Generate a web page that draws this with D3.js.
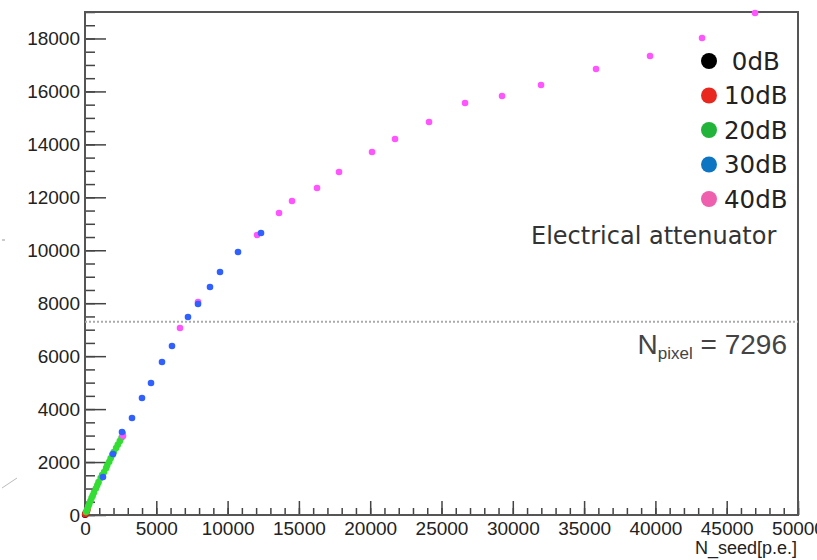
<!DOCTYPE html>
<html>
  <head>
    <meta charset="utf-8">
    <style>
      body { margin: 0; background: #fff; }
      .axis text { font: 19px "Liberation Sans", Arial, sans-serif; fill: #222; }
      .axis line { stroke: #444; stroke-width: 1.5; }
      .axis path { display: none; }
    </style>
    <script src="https://d3js.org/d3.v7.min.js"></script>
  </head>
  <body>
    <svg class="chart"></svg>
    <script>
      // series: [N_seed, N_fired]
      const series0dB = [[10, 10], [30, 35]];
      const series10dB = [[20, 30], [60, 70], [110, 120], [170, 200]];
      const series20dB = [[70, 110], [150, 210], [230, 330], [300, 420], [380, 530], [460, 640],
        [540, 730], [630, 850], [760, 1000], [860, 1120], [950, 1240], [1100, 1400], [1200, 1510],
        [1340, 1620], [1480, 1770], [1560, 1880], [1700, 2010], [1800, 2140], [1910, 2270],
        [2020, 2380], [2180, 2530], [2300, 2650], [2440, 2790], [2560, 2920], [2650, 3080]];
      const series30dB = [[1262, 1435], [1964, 2304], [2595, 3135], [3296, 3664], [3997, 4419],
        [4629, 4986], [5400, 5779], [6101, 6383], [7223, 7478], [7925, 7969], [8766, 8612],
        [9468, 9178], [10730, 9934], [12343, 10651]];
      const series40dB = [[2665, 2984], [6662, 7063], [7925, 8045], [12062, 10575], [13605, 11407],
        [14517, 11860], [16270, 12351], [17813, 12955], [20127, 13711], [21740, 14202],
        [24125, 14844], [26650, 15561], [29244, 15826], [31979, 16241], [35836, 16845],
        [39623, 17336], [43270, 18016], [46987, 18960]];

      const legendLabels = [" 0dB", "10dB", "20dB", "30dB", "40dB"];
      const legendColors = ["#000000", "#e8281e", "#22b33a", "#0d75c2", "#ee5fae"];
      const markerColors = ["#000000", "#ff1a1a", "#33dd33", "#3060ff", "#ff55ff"];
      const nPixel = 7296;

      const xTicks = [0, 5000, 10000, 15000, 20000, 25000, 30000, 35000, 40000, 45000, 50000];
      const yTicks = [0, 2000, 4000, 6000, 8000, 10000, 12000, 14000, 16000, 18000];

      const W = 817, H = 560;
      const svg = d3.select(".chart").attr("width", W).attr("height", H);

      const x = d3.scaleLinear().domain([0, 50000]).range([85, 798]);
      const y = d3.scaleLinear().domain([0, 19000]).range([515, 12]);

      // stray marks at the left edge
      svg.append("line").attr("x1", 2).attr("y1", 488).attr("x2", 17).attr("y2", 478)
        .attr("stroke", "#bbb").attr("stroke-width", 1);
      svg.append("line").attr("x1", 2).attr("y1", 240).attr("x2", 5).attr("y2", 240)
        .attr("stroke", "#999").attr("stroke-width", 1);

      // minor ticks
      svg.append("g").attr("class", "axis")
        .attr("transform", `translate(0,${y(0)})`)
        .call(d3.axisBottom(x).tickValues(d3.range(0, 50001, 1000)).tickSize(-7).tickFormat(""));
      svg.append("g").attr("class", "axis")
        .attr("transform", `translate(${x(0)},0)`)
        .call(d3.axisLeft(y).tickValues(d3.range(0, 19001, 500)).tickSize(-10).tickFormat(""));

      // major ticks
      svg.append("g").attr("class", "axis")
        .attr("transform", `translate(0,${y(0)})`)
        .call(d3.axisBottom(x).tickValues(xTicks).tickSize(-14).tickPadding(7).tickFormat(d3.format("d")));
      svg.append("g").attr("class", "axis")
        .attr("transform", `translate(${x(0)},0)`)
        .call(d3.axisLeft(y).tickValues(yTicks).tickSize(-21).tickPadding(5).tickFormat(d3.format("d")));

      // frame
      svg.append("rect")
        .attr("x", x(0)).attr("y", y(19000))
        .attr("width", x(50000) - x(0)).attr("height", y(0) - y(19000))
        .attr("fill", "none").attr("stroke", "#555").attr("stroke-width", 2);

      svg.append("text")
        .attr("x", 797).attr("y", 554)
        .attr("text-anchor", "end")
        .attr("font-family", "Liberation Sans, Arial, sans-serif")
        .attr("font-size", 18).attr("fill", "#222")
        .text("N_seed[p.e.]");

      // N_pixel line
      svg.append("line")
        .attr("x1", x(0)).attr("x2", x(50000))
        .attr("y1", y(nPixel)).attr("y2", y(nPixel))
        .attr("stroke", "#aaa").attr("stroke-width", 2).attr("stroke-dasharray", "2,2");

      const np = svg.append("text")
        .attr("x", 787).attr("y", 354)
        .attr("text-anchor", "end")
        .attr("font-family", "Liberation Sans, Arial, sans-serif")
        .attr("font-size", 28).attr("fill", "#444");
      np.append("tspan").text("N");
      np.append("tspan").attr("font-size", 17).attr("dy", 5).text("pixel");
      np.append("tspan").attr("dy", -5).text(" = " + nPixel);

      // points
      const allSeries = [series0dB, series10dB, series20dB, series40dB, series30dB];
      const allColors = [markerColors[0], markerColors[1], markerColors[2], markerColors[4], markerColors[3]];
      allSeries.forEach((s, i) => {
        svg.append("g").selectAll("circle").data(s).enter()
          .append("circle")
          .attr("cx", d => x(d[0]))
          .attr("cy", d => y(d[1]))
          .attr("r", 3.3)
          .attr("fill", allColors[i]);
      });

      // legend
      const lg = svg.append("g");
      lg.selectAll("circle").data(legendLabels).enter()
        .append("circle")
        .attr("cx", 709)
        .attr("cy", (d, i) => 61 + i * 34.5)
        .attr("r", 8)
        .attr("fill", (d, i) => legendColors[i]);
      lg.selectAll("text").data(legendLabels).enter()
        .append("text")
        .attr("x", 724)
        .attr("y", (d, i) => 61 + i * 34.5)
        .attr("dy", "0.36em")
        .attr("font-family", "DejaVu Sans, sans-serif")
        .attr("font-size", 24.5)
        .attr("fill", "#222")
        .style("white-space", "pre")
        .text(d => d);

      svg.append("text")
        .attr("x", 531).attr("y", 244)
        .attr("font-family", "DejaVu Sans, sans-serif")
        .attr("font-size", 24).attr("fill", "#333")
        .text("Electrical attenuator");
    </script>
  </body>
</html>
